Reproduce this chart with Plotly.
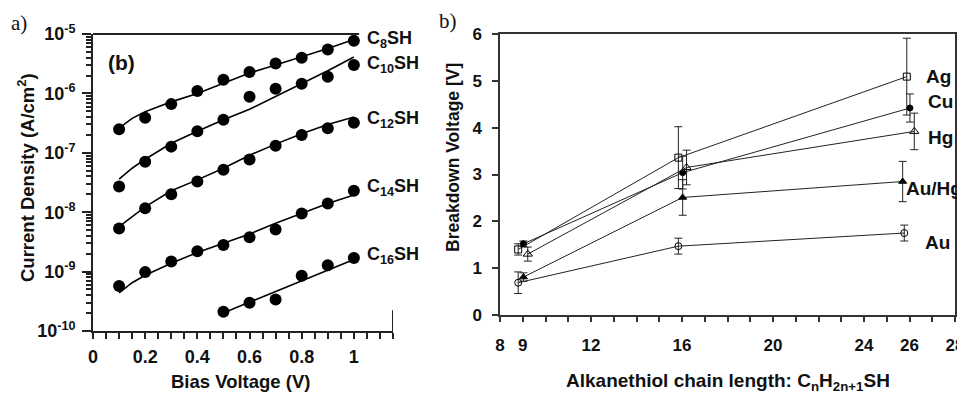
import plotly.graph_objects as go

# ---------------- Panel a) data ----------------
bias = [0.1, 0.2, 0.3, 0.4, 0.5, 0.6, 0.7, 0.8, 0.9, 1.0]
c8 = [2.5e-7, 3.9e-7, 6.6e-7, 1.1e-6, 1.7e-6, 2.3e-6, 3.2e-6, 4.0e-6, 5.5e-6, 7.7e-6]
c10 = [2.7e-8, 7.1e-8, 1.27e-7, 2.3e-7, 3.6e-7, 8.8e-7, 1.2e-6, 1.45e-6, 1.9e-6, 3.0e-6]
c12 = [5.3e-9, 1.17e-8, 2.0e-8, 3.3e-8, 5.2e-8, 7.7e-8, 1.31e-7, 2.0e-7, 2.6e-7, 3.2e-7]
c14 = [5.7e-10, 9.8e-10, 1.48e-9, 2.2e-9, 2.8e-9, 3.8e-9, 5.1e-9, 9.5e-9, 1.4e-8, 2.3e-8]
bias16 = [0.5, 0.6, 0.7, 0.8, 0.9, 1.0]
c16 = [2.1e-10, 3.0e-10, 3.4e-10, 8.5e-10, 1.28e-9, 1.7e-9]

fit_x = [0.1, 0.15, 0.2, 0.3, 0.4, 0.5, 0.6, 0.7, 0.8, 0.9, 1.0]
fit_c8 = [2.6e-7, 3.8e-7, 4.9e-7, 7.2e-7, 1.0e-6, 1.5e-6, 2.2e-6, 3.0e-6, 4.1e-6, 5.7e-6, 8.1e-6]
fit_c10 = [3.6e-8, 5.5e-8, 7.8e-8, 1.45e-7, 2.3e-7, 3.6e-7, 5.4e-7, 8.8e-7, 1.45e-6, 2.4e-6, 4.1e-6]
fit_c12 = [5.7e-9, 8.5e-9, 1.23e-8, 2.3e-8, 3.5e-8, 5.5e-8, 9.1e-8, 1.4e-7, 2.1e-7, 3.0e-7, 4.0e-7]
fit_c14 = [4.4e-10, 6.5e-10, 8.7e-10, 1.38e-9, 2.1e-9, 3.0e-9, 4.3e-9, 6.5e-9, 9.5e-9, 1.4e-8, 1.95e-8]
fit16_x = [0.52, 1.0]
fit_c16 = [2.2e-10, 1.6e-9]

series_a = [("C<sub>8</sub>SH", bias, c8, fit_x, fit_c8),
            ("C<sub>10</sub>SH", bias, c10, fit_x, fit_c10),
            ("C<sub>12</sub>SH", bias, c12, fit_x, fit_c12),
            ("C<sub>14</sub>SH", bias, c14, fit_x, fit_c14),
            ("C<sub>16</sub>SH", bias16, c16, fit16_x, fit_c16)]
label_px_y = [40, 65, 120, 187, 256]

a_xticks = [0, 0.2, 0.4, 0.6, 0.8, 1.0]
a_xticktext = ["0", "0.2", "0.4", "0.6", "0.8", "1"]
a_yticks = [1e-10, 1e-9, 1e-8, 1e-7, 1e-6, 1e-5]
a_yticktext = ["10<sup>-10</sup>", "10<sup>-9</sup>", "10<sup>-8</sup>",
               "10<sup>-7</sup>", "10<sup>-6</sup>", "10<sup>-5</sup>"]

# ---------------- Panel b) data ----------------
metals = ["Ag", "Cu", "Hg", "Au/Hg", "Au"]
chain_x = {
    "Ag": [8.8, 15.84, 25.88],
    "Cu": [9.03, 16.03, 26.02],
    "Hg": [9.22, 16.2, 26.21],
    "Au/Hg": [9.03, 16.03, 25.7],
    "Au": [8.8, 15.84, 25.77],
}
breakdown = {
    "Ag": [1.40, 3.36, 5.09],
    "Cu": [1.52, 3.04, 4.42],
    "Hg": [1.30, 3.15, 3.92],
    "Au/Hg": [0.81, 2.51, 2.85],
    "Au": [0.69, 1.47, 1.75],
}
breakdown_err = {
    "Ag": [0.12, 0.66, 0.82],
    "Cu": [0.06, 0.35, 0.30],
    "Hg": [0.15, 0.37, 0.39],
    "Au/Hg": [0.09, 0.38, 0.43],
    "Au": [0.23, 0.17, 0.17],
}
b_xticks = [8, 9, 12, 16, 20, 24, 26, 28]
b_yticks = [0, 1, 2, 3, 4, 5, 6]

markers = {
    "Ag": dict(symbol="square-open", size=7),
    "Cu": dict(symbol="circle", size=6),
    "Hg": dict(symbol="triangle-up-open", size=8),
    "Au/Hg": dict(symbol="triangle-up", size=7),
    "Au": dict(symbol="circle-open", size=7),
}
label_b_px = {"Ag": (938, 77), "Cu": (940, 102), "Hg": (940, 137), "Au/Hg": (934, 188), "Au": (937, 242)}

# the page body adds an 8px margin; the figure is sized to fill the rest of the window
OFF = 8
W, H = 965 - OFF, 394 - OFF
def px(x):
    return (x - OFF) / W
def py(y):
    return 1 - (y - OFF) / H

FONT = "Liberation Sans, Arial, sans-serif"
fig = go.Figure()

for name, xs, ys, fx, fy in series_a:
    fig.add_trace(go.Scatter(x=fx, y=fy, mode="lines", line=dict(color="black", width=1.6),
                             xaxis="x", yaxis="y", showlegend=False, hoverinfo="skip"))
    fig.add_trace(go.Scatter(x=xs, y=ys, mode="markers", marker=dict(color="black", size=12),
                             xaxis="x", yaxis="y", showlegend=False, name=name))

for m in metals:
    fig.add_trace(go.Scatter(
        x=chain_x[m], y=breakdown[m], mode="lines+markers", name=m,
        line=dict(color="#222", width=1),
        marker=dict(color="black", line=dict(color="black", width=1), **markers[m]),
        error_y=dict(type="data", array=breakdown_err[m], color="#222", thickness=1, width=4),
        xaxis="x2", yaxis="y2", showlegend=False))

def note(text, x, y, size=17, serif=False, angle=0, xanchor="center"):
    return dict(text=text, x=px(x), y=py(y), xref="paper", yref="paper",
                xanchor=xanchor, yanchor="middle", showarrow=False, textangle=angle,
                font=dict(size=size, color="#111",
                          family="Liberation Serif, Times New Roman, serif" if serif else FONT,
                          weight="normal" if serif else "bold"))

ann = []
for (name, *_), yy in zip(series_a, label_px_y):
    ann.append(note(name, 365, yy, size=18, xanchor="left"))
for m in metals:
    xx, yy = label_b_px[m]
    ann.append(note(m, xx, yy, size=19))
ann += [
    note("(b)", 121, 62, size=21),
    note("a)", 19, 23, size=21, serif=True),
    note("b)", 448, 21, size=21, serif=True),
    note("Current Density (A/cm<sup>2</sup>)", 26, 178, size=18.5, angle=-90),
    note("Bias Voltage (V)", 240, 381, size=18.5),
    note("Breakdown Voltage [V]", 453, 158, size=17.5, angle=-90),
    note("Alkanethiol chain length: C<sub>n</sub>H<sub>2n+1</sub>SH", 728, 382, size=19),
]

tickfont_a = dict(size=18, family=FONT, weight="bold", color="#111")
tickfont_b = dict(size=17, family=FONT, weight="bold", color="#111")

fig.update_layout(
    width=W, height=H, margin=dict(l=0, r=0, t=0, b=0, pad=0, autoexpand=False),
    paper_bgcolor="white", plot_bgcolor="white",
    annotations=ann,
    xaxis=dict(domain=[px(93), px(393)], range=[0, 1.15], tickvals=a_xticks, ticktext=a_xticktext,
               ticks="outside", ticklen=6, tickwidth=2, tickcolor="#222",
               minor=dict(dtick=0.05, tick0=0, ticks="outside", ticklen=6, tickwidth=2, tickcolor="#222"),
               showline=True, linewidth=2, linecolor="#222", showgrid=False, zeroline=False,
               tickfont=tickfont_a, anchor="y", ticklabelstandoff=2, automargin=False),
    yaxis=dict(domain=[py(331), py(34)], type="log", range=[-10, -5], tickvals=a_yticks,
               ticktext=a_yticktext, ticks="outside", ticklen=9, tickwidth=2, tickcolor="#222",
               minor=dict(tickvals=[k * 10.0 ** e for e in range(-10, -5) for k in range(2, 10)],
                          ticks="outside", ticklen=5, tickwidth=1.5, tickcolor="#222"),
               showline=True, linewidth=2, linecolor="#222", showgrid=False, zeroline=False,
               tickfont=tickfont_a, anchor="x", ticklabelstandoff=3, automargin=False),
    xaxis2=dict(domain=[px(500), px(955)], range=[8, 28], tickvals=b_xticks,
                ticks="outside", ticklen=5, tickwidth=1.5, tickcolor="#333",
                minor=dict(dtick=1, tick0=8, ticks="outside", ticklen=5, tickwidth=1.5, tickcolor="#333"),
                showline=True, linewidth=1.5, linecolor="#333", mirror=True,
                showgrid=False, zeroline=False, tickfont=tickfont_b, anchor="y2",
                ticklabelstandoff=9, automargin=False),
    yaxis2=dict(domain=[py(315), py(34)], range=[0, 6], tickvals=b_yticks,
                ticks="outside", ticklen=6, tickwidth=1.5, tickcolor="#333",
                showline=True, linewidth=1.5, linecolor="#333", mirror=True,
                showgrid=False, zeroline=False, tickfont=tickfont_b, anchor="x2",
                ticklabelstandoff=7, automargin=False),
    shapes=[
        dict(type="line", xref="x", yref="y domain", x0=0, x1=1.02, y0=1, y1=1,
             line=dict(color="#222", width=2)),
        dict(type="line", xref="x", yref="y domain", x0=1.15, x1=1.15, y0=0, y1=0.07,
             line=dict(color="#222", width=2)),
    ],
)

fig.write_html("out.html")
